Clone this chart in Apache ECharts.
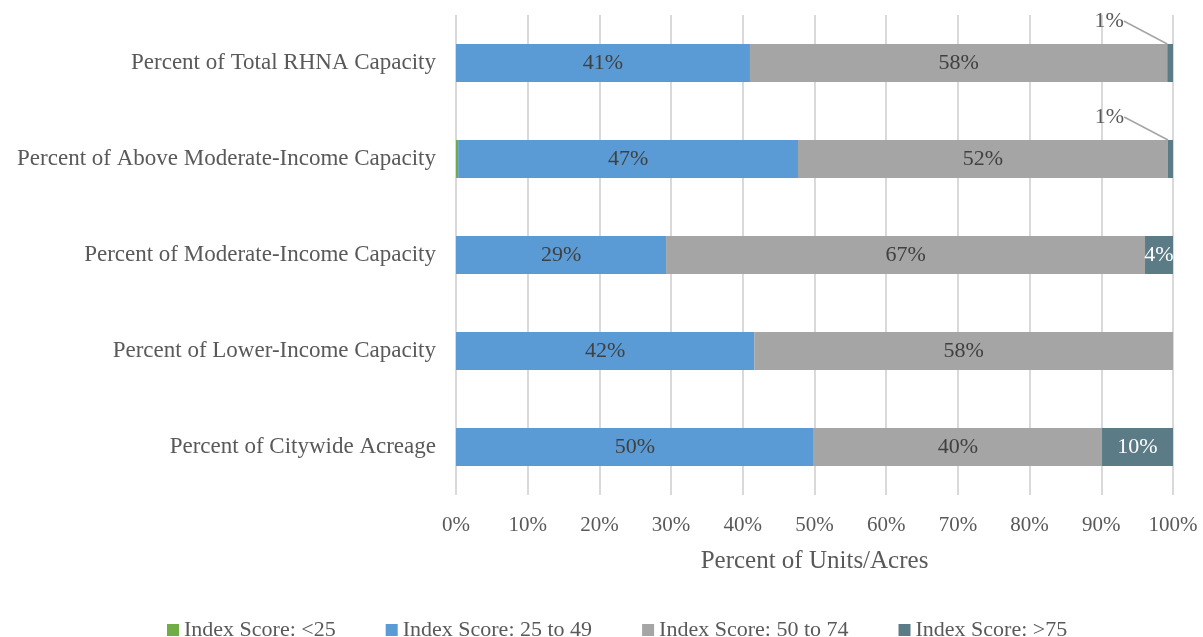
<!DOCTYPE html>
<html>
<head>
<meta charset="utf-8">
<script src="https://cdn.jsdelivr.net/npm/echarts@6/dist/echarts.min.js"></script>
<style>
  html, body { margin: 0; padding: 0; background: #fff; }
  #chart { width: 1203px; height: 637px; }
</style>
</head>
<body>
<div id="chart"></div>
<script>
// 分类（从上到下）
const categories = [
  'Percent of Total RHNA Capacity',
  'Percent of Above Moderate-Income Capacity',
  'Percent of Moderate-Income Capacity',
  'Percent of Lower-Income Capacity',
  'Percent of Citywide Acreage'
]
// 各指数分段占比（%）
const scoreUnder25 = [0, 0.3, 0, 0, 0]
const score25to49 = [41.0, 47.4, 29.3, 41.6, 49.9]
const score50to74 = [58.2, 51.6, 66.8, 58.4, 40.2]
const scoreOver75 = [0.8, 0.7, 3.9, 0, 9.9]
const seriesNames = ['Index Score: <25', 'Index Score: 25 to 49', 'Index Score: 50 to 74', 'Index Score: >75']
const tickLabels = ['0%', '10%', '20%', '30%', '40%', '50%', '60%', '70%', '80%', '90%', '100%']

const font = '"Liberation Serif", "DejaVu Serif", serif'
const colors = ['#70AD47', '#5B9BD5', '#A5A5A5', '#5B7B86']

const pct = (p) => (p.value >= 0.5 ? Math.round(p.value) + '%' : '')

function makeSeries(name, values, color, labelColor) {
  return {
    name: name,
    type: 'bar',
    stack: 'total',
    barWidth: 38,
    itemStyle: { color: color },
    label: {
      show: true,
      position: 'inside',
      formatter: pct,
      color: labelColor,
      fontFamily: font,
      fontSize: 22
    },
    data: values
  }
}

let chart = echarts.init(document.getElementById('chart'))
const series = [
  makeSeries(seriesNames[0], scoreUnder25, colors[0], '#404040'),
  makeSeries(seriesNames[1], score25to49, colors[1], '#404040'),
  makeSeries(seriesNames[2], score50to74, colors[2], '#404040'),
  makeSeries(seriesNames[3], scoreOver75, colors[3], '#ffffff')
]
// 很小的 1% 标签移到柱子上方，并加引线
series[3].labelLayout = function (params) {
  if (params.dataIndex <= 1) {
    return { dx: -61, dy: -42 }
  }
  return {}
}
series[3].labelLine = {
  show: true,
  lineStyle: { color: '#A5A5A5', width: 1.5 }
}
series[3].data = scoreOver75.map((v, i) => {
  if (i <= 1) {
    return { value: v, label: { color: '#595959', formatter: '1%' } }
  }
  return v
})

const option = {
  animation: false,
  color: colors,
  grid: {
    left: 456,
    right: 30,
    top: 15,
    height: 480,
    containLabel: false
  },
  legend: {
    top: 614,
    left: 162,
    itemWidth: 12,
    itemHeight: 12,
    itemGap: 50,
    icon: 'rect',
    textStyle: { fontFamily: font, fontSize: 22, color: '#595959' },
    data: seriesNames
  },
  xAxis: {
    type: 'value',
    min: 0,
    max: 100,
    interval: 10,
    name: 'Percent of Units/Acres',
    nameLocation: 'middle',
    nameGap: 54,
    nameTextStyle: { fontFamily: font, fontSize: 25, color: '#595959' },
    axisLine: { show: false },
    axisTick: { show: false },
    axisLabel: {
      margin: 20,
      fontFamily: font,
      fontSize: 21,
      color: '#595959',
      formatter: (v) => tickLabels[Math.round(v / 10)]
    },
    splitLine: {
      show: true,
      lineStyle: { color: '#D9D9D9', width: 2 }
    }
  },
  yAxis: {
    type: 'category',
    inverse: true,
    data: categories,
    axisLine: { show: false },
    axisTick: { show: false },
    axisLabel: {
      margin: 20,
      fontFamily: font,
      fontSize: 23,
      color: '#595959'
    }
  },
  series: series
}

chart.setOption(option)
</script>
</body>
</html>
